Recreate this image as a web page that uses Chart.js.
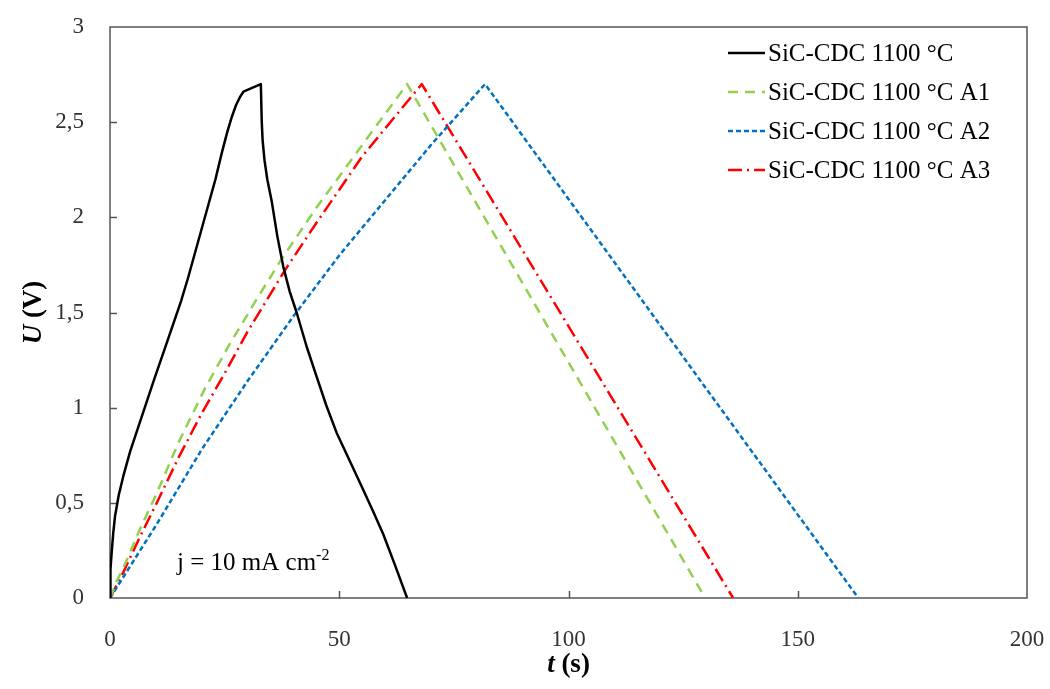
<!DOCTYPE html>
<html>
<head>
<meta charset="utf-8">
<script src="https://cdn.jsdelivr.net/npm/chart.js@4.4.1/dist/chart.umd.min.js"></script>
<style>
  html, body { margin: 0; padding: 0; background: #fff; }
  #wrap { width: 1050px; height: 689px; position: relative; }
</style>
</head>
<body>
<div id="wrap"><canvas id="chartone"></canvas></div>
<script>
// series names (legend)
const seriesNames = ['SiC-CDC 1100 °C', 'SiC-CDC 1100 °C A1', 'SiC-CDC 1100 °C A2', 'SiC-CDC 1100 °C A3'];

// SiC-CDC 1100 °C
const cdcT = [0, 0.05, 0.15, 0.4, 0.7, 1.1, 1.9, 2.9, 4.4, 6.2, 8, 9.8, 11.8, 13.8, 15.5, 17, 18.5, 20, 21.5, 23, 24.4, 25.6, 26.6, 27.5, 28.3, 29.1, 31, 32.9,
              33.1, 33.3, 33.7, 34.3, 35.3, 36.5, 37.8, 39.2, 40.7, 42.9, 45.1, 47.2, 49.4, 52.3, 55.2, 57.4, 59.6, 62.2, 64.8];
const cdcU = [0, 0.08, 0.15, 0.25, 0.34, 0.43, 0.54, 0.64, 0.77, 0.9, 1.03, 1.16, 1.3, 1.44, 1.56, 1.68, 1.81, 1.94, 2.07, 2.2, 2.34, 2.45, 2.53, 2.59, 2.63, 2.66, 2.68, 2.7,
              2.5, 2.4, 2.3, 2.2, 2.08, 1.9, 1.74, 1.61, 1.5, 1.32, 1.16, 1.01, 0.87, 0.72, 0.57, 0.455, 0.335, 0.17, 0];

// A1
const a1T = [0, 1.5, 3.3, 6.5, 10, 15, 20.7, 26, 32, 37.4, 45, 55, 64.8, 129.8];
const a1U = [0, 0.09, 0.18, 0.36, 0.54, 0.82, 1.1, 1.33, 1.57, 1.78, 2.05, 2.38, 2.7, 0];

// A2
const a2T = [0, 5, 10, 15, 20, 25, 30, 40, 50, 60, 70, 81.8, 163.2];
const a2U = [0, 0.19, 0.38, 0.58, 0.78, 0.96, 1.14, 1.48, 1.8, 2.09, 2.38, 2.7, 0];

// A3
const a3T = [0, 3, 6.5, 10, 15, 20, 25, 30, 38.1, 45, 55, 68, 135.9];
const a3U = [0, 0.14, 0.32, 0.49, 0.74, 0.97, 1.18, 1.4, 1.72, 1.97, 2.32, 2.7, 0];

const xTicks = [0, 50, 100, 150, 200];
const yTicks = [0, 0.5, 1, 1.5, 2, 2.5, 3];

const serif = "'Liberation Serif', 'Times New Roman', serif";

const toPoints = (ts, us) => ts.map((t, i) => ({ x: t, y: us[i] }));

const frame = {
  id: 'frame',
  beforeDatasetsDraw(chart) {
    const { ctx, chartArea: a, scales } = chart;
    ctx.save();
    ctx.strokeStyle = '#555';
    ctx.lineWidth = 1.5;
    ctx.strokeRect(a.left, a.top, a.right - a.left, a.bottom - a.top);
    ctx.beginPath();
    xTicks.slice(1, -1).forEach(v => {
      const px = Math.round(scales.x.getPixelForValue(v)) + 0.5;
      ctx.moveTo(px, a.bottom); ctx.lineTo(px, a.bottom - 7);
    });
    yTicks.slice(1, -1).forEach(v => {
      const py = Math.round(scales.y.getPixelForValue(v)) + 0.5;
      ctx.moveTo(a.left, py); ctx.lineTo(a.left + 7, py);
    });
    ctx.stroke();
    ctx.restore();
  },
  afterDraw(chart) {
    const { ctx, chartArea: a } = chart;
    ctx.save();
    ctx.fillStyle = '#000';
    ctx.textBaseline = 'middle';

    // x title: t (s)
    const fb = '27px ' + serif;
    ctx.font = 'italic bold ' + fb;
    const w1 = ctx.measureText('t').width;
    ctx.font = 'bold ' + fb;
    const w2 = ctx.measureText(' (s)').width;
    let x0 = (a.left + a.right) / 2 - (w1 + w2) / 2;
    ctx.textAlign = 'left';
    ctx.font = 'italic bold ' + fb;
    ctx.fillText('t', x0, 665);
    ctx.font = 'bold ' + fb;
    ctx.fillText(' (s)', x0 + w1, 665);

    // y title: U (V)
    ctx.translate(34, (a.top + a.bottom) / 2);
    ctx.rotate(-Math.PI / 2);
    ctx.font = 'italic bold ' + fb;
    const u1 = ctx.measureText('U').width;
    ctx.font = 'bold ' + fb;
    const u2 = ctx.measureText(' (V)').width;
    x0 = -(u1 + u2) / 2;
    ctx.font = 'italic bold ' + fb;
    ctx.fillText('U', x0, 0);
    ctx.font = 'bold ' + fb;
    ctx.fillText(' (V)', x0 + u1, 0);
    ctx.restore();

    // current density note
    ctx.save();
    ctx.fillStyle = '#000';
    ctx.textAlign = 'left';
    ctx.textBaseline = 'alphabetic';
    ctx.font = '25px ' + serif;
    const note = 'j = 10 mA cm';
    ctx.fillText(note, 177, 570);
    const nw = ctx.measureText(note).width;
    ctx.font = '16px ' + serif;
    ctx.fillText('-2', 177 + nw, 560);
    ctx.restore();

    // legend
    ctx.save();
    ctx.font = '25px ' + serif;
    ctx.textAlign = 'left';
    ctx.textBaseline = 'middle';
    chart.data.datasets.forEach((ds, i) => {
      const y = 53 + i * 39;
      ctx.strokeStyle = ds.borderColor;
      ctx.lineWidth = ds.borderWidth;
      ctx.setLineDash(ds.borderDash || []);
      ctx.beginPath();
      ctx.moveTo(728, y); ctx.lineTo(765, y);
      ctx.stroke();
      ctx.fillStyle = '#000';
      ctx.fillText(ds.label, 768, y + 1);
    });
    ctx.restore();
  }
};

const ctx = document.getElementById('chartone').getContext('2d');
new Chart(ctx, {
  type: 'line',
  data: {
    datasets: [
      { label: seriesNames[0], data: toPoints(cdcT, cdcU), borderColor: '#000000', borderWidth: 2.5, borderDash: [] },
      { label: seriesNames[1], data: toPoints(a1T, a1U), borderColor: '#92d050', borderWidth: 2.5, borderDash: [10, 7] },
      { label: seriesNames[2], data: toPoints(a2T, a2U), borderColor: '#0070c0', borderWidth: 2.5, borderDash: [5, 3] },
      { label: seriesNames[3], data: toPoints(a3T, a3U), borderColor: '#ff0000', borderWidth: 2.5, borderDash: [14, 5, 2, 5] },
    ],
  },
  options: {
    responsive: true,
    maintainAspectRatio: false,
    animation: false,
    layout: { padding: { top: 27, right: 23, left: 0, bottom: 0 } },
    elements: { point: { radius: 0 }, line: { tension: 0, fill: false, borderJoinStyle: 'round' } },
    plugins: { legend: { display: false }, tooltip: { enabled: false } },
    scales: {
      x: {
        type: 'linear', min: 0, max: 200,
        afterBuildTicks: s => { s.ticks = xTicks.map(v => ({ value: v })); },
        afterFit: s => { s.height = 91; s.paddingLeft = 0; s.paddingRight = 0; },
        grid: { display: false },
        border: { display: false },
        ticks: { color: '#333', font: { family: serif, size: 23 }, padding: 20, maxRotation: 0 },
      },
      y: {
        type: 'linear', min: 0, max: 3,
        afterBuildTicks: s => { s.ticks = yTicks.map(v => ({ value: v })); },
        afterFit: s => { s.width = 110; s.paddingTop = 0; s.paddingBottom = 0; },
        grid: { display: false },
        border: { display: false },
        ticks: {
          color: '#333', font: { family: serif, size: 23 }, padding: 18,
          callback: v => String(v).replace('.', ','),
        },
      },
    },
  },
  plugins: [frame],
});
</script>
</body>
</html>
